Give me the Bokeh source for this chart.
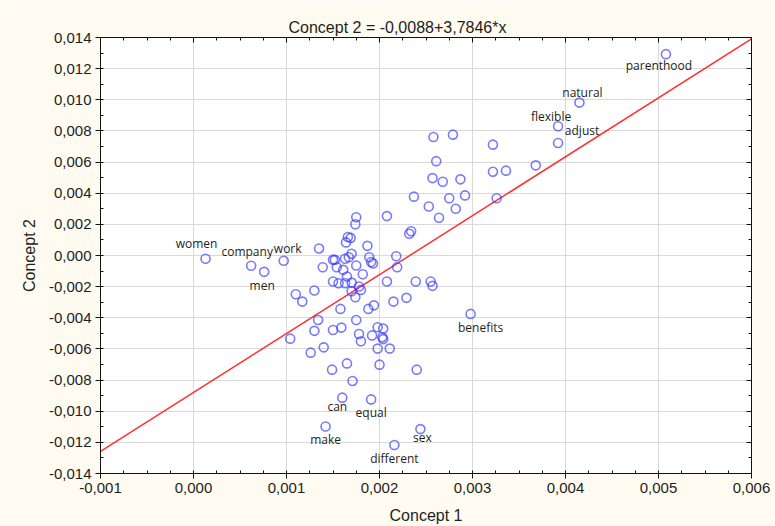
from bokeh.plotting import figure
from bokeh.models import Range1d, LinearAxis, FixedTicker, ColumnDataSource
from bokeh.core.properties import value
from bokeh.embed import file_html
from bokeh.resources import INLINE
import numpy as np

# ---------------- data ----------------
# unlabeled word points (Concept 1, Concept 2)
PT_X = [0.00258, 0.00279, 0.00322, 0.00261, 0.00257, 0.00268, 0.00287, 0.00322, 0.00336, 0.00368,
        0.00237, 0.00275, 0.00292, 0.00326, 0.00253, 0.00282, 0.00264,
        0.00232, 0.00234, 0.00218, 0.00219, 0.00208, 0.00239, 0.00255, 0.00257, 0.00229, 0.00215,
        0.00175, 0.00174, 0.00208, 0.00166, 0.00169, 0.00164, 0.00187, 0.00135, 0.00170, 0.00167,
        0.00163, 0.00150, 0.00152, 0.00189, 0.00191, 0.00193, 0.00139, 0.00154, 0.00175, 0.00161,
        0.00182, 0.00165, 0.00150, 0.00156, 0.00163, 0.00170, 0.00178, 0.00180, 0.00170, 0.00174,
        0.00110, 0.00117, 0.00130,
        0.00158, 0.00194, 0.00188, 0.00134, 0.00130, 0.00104, 0.00150, 0.00159, 0.00175, 0.00178,
        0.00180, 0.00198, 0.00204, 0.00192, 0.00203, 0.00204, 0.00198, 0.00211, 0.00140, 0.00126,
        0.00165, 0.00200, 0.00149, 0.00240, 0.00171]
PT_Y = [0.00761, 0.00776, 0.00712, 0.00606, 0.00497, 0.00474, 0.00489, 0.00538, 0.00545, 0.00579,
        0.00378, 0.00368, 0.00386, 0.00368, 0.00315, 0.00300, 0.00242,
        0.00140, 0.00156, -0.00005, -0.00075, -0.00167, -0.00167, -0.00167, -0.00195, -0.00272, -0.00296,
        0.00246, 0.00201, 0.00253, 0.00119, 0.00113, 0.00084, 0.00062, 0.00045, 0.00011, -0.00011,
        -0.00021, -0.00028, -0.00028, -0.00011, -0.00042, -0.00051, -0.00075, -0.00075, -0.00064, -0.00092,
        -0.00120, -0.00135, -0.00167, -0.00178, -0.00178, -0.00174, -0.00199, -0.00221, -0.00230, -0.00268,
        -0.00249, -0.00296, -0.00225,
        -0.00343, -0.00320, -0.00343, -0.00414, -0.00484, -0.00534, -0.00478, -0.00463, -0.00414, -0.00504,
        -0.00551, -0.00461, -0.00469, -0.00513, -0.00525, -0.00537, -0.00598, -0.00598, -0.00590, -0.00624,
        -0.00693, -0.00701, -0.00733, -0.00733, -0.00806]

# labeled word points
WORDS = ["women", "company", "work", "men", "parenthood", "natural", "flexible", "adjust",
         "benefits", "can", "equal", "make", "sex", "different"]
WORD_X = [0.00013, 0.00062, 0.00097, 0.00076, 0.00508, 0.00415, 0.00392, 0.00392,
          0.00298, 0.00160, 0.00191, 0.00142, 0.00244, 0.00216]
WORD_Y = [-0.00021, -0.00066, -0.00034, -0.00105, 0.01293, 0.00982, 0.00830, 0.00722,
          -0.00375, -0.00913, -0.00924, -0.01098, -0.01115, -0.01217]

# regression line: Concept 2 = -0,0088 + 3,7846*x
INTERCEPT = -0.0088
SLOPE = 3.7846

X_TICKS = [-0.001, 0.0, 0.001, 0.002, 0.003, 0.004, 0.005, 0.006]
X_TICK_LABELS = ["-0,001", "0,000", "0,001", "0,002", "0,003", "0,004", "0,005", "0,006"]
Y_TICKS = [-0.014, -0.012, -0.01, -0.008, -0.006, -0.004, -0.002, 0.0,
           0.002, 0.004, 0.006, 0.008, 0.01, 0.012, 0.014]
Y_TICK_LABELS = ["-0,014", "-0,012", "-0,010", "-0,008", "-0,006", "-0,004", "-0,002", "0,000",
                 "0,002", "0,004", "0,006", "0,008", "0,010", "0,012", "0,014"]

# ---------------- styling / layout ----------------
LABEL_DX = [-9, -4, 4, -2, -7, 3, -7, 24, 10, -5, 0, 0, 2, 0]
LABEL_DY = [-15, -14, -12, 14, 11, -10, -10, -13, 14, 9, 13, 13, 8, 13]

BG = "#FFFBF0"
TXT = "#1e1e1e"
FONT = "Liberation Sans"

x0, x1 = X_TICKS[0], X_TICKS[-1]
y0, y1 = Y_TICKS[0], Y_TICKS[-1]

p = figure(width=775, height=526, output_backend="svg", toolbar_location=None,
           x_range=Range1d(x0, x1), y_range=Range1d(y0, y1),
           min_border_left=100, min_border_right=24, min_border_top=37, min_border_bottom=40,
           background_fill_color="white", border_fill_color=BG)

p.title.text = "Concept 2 = -0,0088+3,7846*x"
p.title.text_font = FONT
p.title.text_font_size = "16px"
p.title.text_font_style = "normal"
p.title.text_color = TXT
p.title.align = "left"
p.title.offset = 188
p.title.standoff = 4
p.outline_line_color = "#111111"

x_minor = list(np.arange(x0, x1 + 1e-9, 0.00025))
y_minor = list(np.arange(y0, y1 + 1e-9, 0.001))
xt = FixedTicker(ticks=X_TICKS, minor_ticks=x_minor)
yt = FixedTicker(ticks=Y_TICKS, minor_ticks=y_minor)

p.xaxis.ticker = xt
p.yaxis.ticker = yt
p.xaxis.major_label_overrides = dict(zip(X_TICKS, X_TICK_LABELS))
p.yaxis.major_label_overrides = dict(zip(Y_TICKS, Y_TICK_LABELS))
p.xaxis.axis_label = "Concept 1"
p.yaxis.axis_label = "Concept 2"

for ax in (p.xaxis[0], p.yaxis[0]):
    ax.axis_line_color = "#111111"
    ax.major_tick_line_color = "#111111"
    ax.minor_tick_line_color = "#111111"
    ax.major_tick_out = 5
    ax.major_tick_in = 0
    ax.minor_tick_out = 0
    ax.minor_tick_in = 3
    ax.major_label_text_font = FONT
    ax.major_label_text_font_size = "15px"
    ax.major_label_text_color = TXT
    ax.axis_label_text_font = FONT
    ax.axis_label_text_font_size = "16px"
    ax.axis_label_text_font_style = "normal"
    ax.axis_label_text_color = TXT
    ax.major_label_standoff = 4
p.xaxis.axis_label_standoff = 11
p.yaxis.axis_label_standoff = 8

top = LinearAxis(ticker=FixedTicker(ticks=X_TICKS, minor_ticks=x_minor),
                 major_label_overrides={t: "" for t in X_TICKS})
right = LinearAxis(ticker=FixedTicker(ticks=Y_TICKS, minor_ticks=y_minor),
                   major_label_overrides={t: "" for t in Y_TICKS})
for ax in (top, right):
    ax.axis_line_color = "#111111"
    ax.major_tick_line_color = "#111111"
    ax.minor_tick_line_color = "#111111"
    ax.major_tick_out = 0
    ax.major_tick_in = 5
    ax.minor_tick_out = 0
    ax.minor_tick_in = 3
    ax.major_label_standoff = 0
    ax.major_label_text_font_size = "1px"
p.add_layout(top, "above")
p.add_layout(right, "right")

p.xgrid.ticker = xt
p.ygrid.ticker = yt
p.grid.grid_line_color = "#d9d9d9"
p.grid.grid_line_width = 1

# regression line
p.line([x0, x1], [INTERCEPT + SLOPE * x0, INTERCEPT + SLOPE * x1],
       line_color="#ff3030", line_width=1.5)

# points
all_x = PT_X + WORD_X
all_y = PT_Y + WORD_Y
p.scatter(all_x, all_y, marker="circle", size=9, fill_color=None,
          line_color="#3333ff", line_alpha=0.65, line_width=1.6)

src = ColumnDataSource(dict(x=WORD_X, y=WORD_Y, t=WORDS, dx=LABEL_DX, dy=LABEL_DY))
p.text(x="x", y="y", text="t", source=src, x_offset="dx", y_offset="dy",
       text_font=value("Open Sans"), text_font_size="12px", text_color=TXT,
       text_align="center", text_baseline="middle")

open("out.html", "w").write(file_html(p, INLINE))
